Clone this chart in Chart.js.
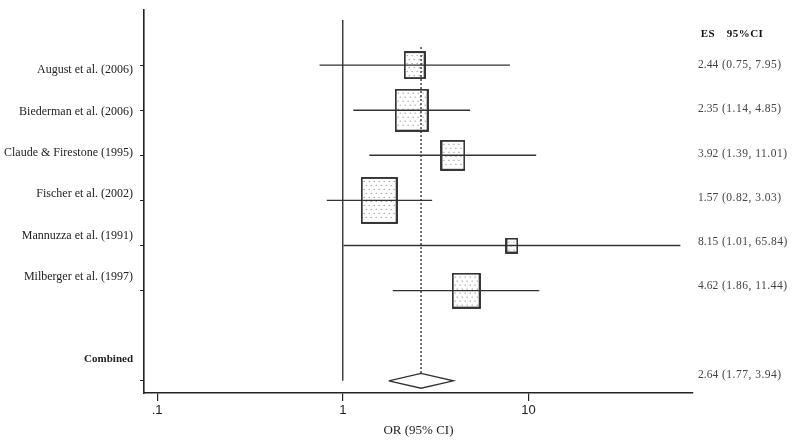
<!DOCTYPE html>
<html>
<head>
<meta charset="utf-8">
<script src="https://cdn.jsdelivr.net/npm/chart.js@4.4.0/dist/chart.umd.min.js"></script>
<style>
  html, body { margin: 0; padding: 0; background: #fff; }
</style>
</head>
<body>
<canvas id="forest" width="800" height="443"></canvas>
<script>
// study data
var studies = ['August et al. (2006)', 'Biederman et al. (2006)', 'Claude & Firestone (1995)',
               'Fischer et al. (2002)', 'Mannuzza et al. (1991)', 'Milberger et al. (1997)'];
var es = [2.44, 2.35, 3.92, 1.57, 8.15, 4.62];
var ciLow = [0.75, 1.14, 1.39, 0.82, 1.01, 1.86];
var ciHigh = [7.95, 4.85, 11.01, 3.03, 65.84, 11.44];
var weights = [10.3, 25.6, 12.8, 30.8, 3.0, 17.6];

var combinedLabel = 'Combined';
var combinedEs = 2.64;
var combinedLow = 1.77;
var combinedHigh = 3.94;

var xTicks = [0.1, 1, 10];
var xTickLabels = ['.1', '1', '10'];
var headers = ['ES', '95%CI'];

// row positions: studies 0..5, combined one row further down
var rows = studies.map(function (s, i) { return i; });
var combinedRow = studies.length + 1;
var rowTicks = rows.concat([combinedRow]);
var rowLabels = studies.concat([combinedLabel]);

var ink = '#222';
var serif = '"Liberation Serif", "DejaVu Serif", serif';

function dottedBox(w) {
    var h = Math.round(8.1 * Math.sqrt(w));
    var bw = Math.round(h * 0.78);
    var c = document.createElement('canvas');
    c.width = bw + 2; c.height = h + 2;
    var g = c.getContext('2d');
    g.fillStyle = '#fff';
    g.fillRect(1, 1, bw, h);
    g.fillStyle = '#777';
    for (var yy = 4, r = 0; yy < h - 1; yy += 4, r++) {
        for (var xx = (r % 2 ? 5 : 3); xx < bw - 1; xx += 5) {
            g.fillRect(xx, yy, 1, 1);
        }
    }
    g.strokeStyle = ink;
    g.lineWidth = 1.8;
    g.strokeRect(1, 1, bw, h);
    return c;
}

var datasets = [];

// confidence interval lines
studies.forEach(function (s, i) {
    datasets.push({
        type: 'line',
        data: [{ x: ciLow[i], y: rows[i] }, { x: ciHigh[i], y: rows[i] }],
        borderColor: '#333', borderWidth: 1.4, pointRadius: 0, order: 0
    });
});

// weighted boxes
datasets.push({
    type: 'scatter',
    data: studies.map(function (s, i) { return { x: es[i], y: rows[i] }; }),
    pointStyle: weights.map(dottedBox),
    pointRadius: 5,
    order: 2
});

// line of no effect
datasets.push({
    type: 'line',
    data: [{ x: 1, y: -1 }, { x: 1, y: combinedRow }],
    borderColor: '#333', borderWidth: 1.4, pointRadius: 0, order: 1
});

// pooled estimate line
var diamondHalf = 0.165;
datasets.push({
    type: 'line',
    data: [{ x: combinedEs, y: -0.4 }, { x: combinedEs, y: combinedRow - diamondHalf }],
    borderColor: '#333', borderWidth: 1.4, borderDash: [2, 2], pointRadius: 0, order: 0
});

// pooled diamond
datasets.push({
    type: 'line',
    data: [
        { x: combinedLow, y: combinedRow },
        { x: combinedEs, y: combinedRow - diamondHalf },
        { x: combinedHigh, y: combinedRow },
        { x: combinedEs, y: combinedRow + diamondHalf },
        { x: combinedLow, y: combinedRow }
    ],
    borderColor: '#333', borderWidth: 1.4, pointRadius: 0, fill: false, tension: 0, order: 0
});

var rightText = {
    id: 'rightText',
    afterDraw: function (chart) {
        var ctx = chart.ctx;
        var yr = chart.scales.yr;
        ctx.save();
        ctx.textBaseline = 'middle';
        ctx.fillStyle = '#111';
        ctx.letterSpacing = '0.5px';
        ctx.font = 'bold 11px ' + serif;
        ctx.textAlign = 'center';
        ctx.fillText(headers[0], 708, yr.getPixelForValue(-0.7));
        ctx.fillText(headers[1], 745, yr.getPixelForValue(-0.7));

        ctx.fillStyle = '#444';
        ctx.textAlign = 'left';
        var allEs = es.concat([combinedEs]);
        var allLo = ciLow.concat([combinedLow]);
        var allHi = ciHigh.concat([combinedHigh]);
        rowTicks.forEach(function (r, i) {
            var y = yr.getPixelForValue(r);
            ctx.font = '11.5px ' + serif;
            ctx.letterSpacing = '0px';
            ctx.fillText(allEs[i].toFixed(2), 698, y);
            ctx.letterSpacing = '0.5px';
            ctx.fillText('(' + allLo[i].toFixed(2) + ', ' + allHi[i].toFixed(2) + ')', 722, y);
        });
        ctx.restore();
    }
};

function fixedTicks(values) {
    return function (scale) {
        scale.ticks = values.map(function (v) { return { value: v }; });
    };
}

new Chart(document.getElementById('forest'), {
    type: 'scatter',
    data: { datasets: datasets },
    options: {
        responsive: false,
        animation: false,
        layout: { padding: { top: 7, right: 107, left: 0, bottom: 0 } },
        plugins: { legend: { display: false }, tooltip: { enabled: false } },
        scales: {
            x: {
                type: 'logarithmic',
                min: 0.085,
                max: 77,
                afterBuildTicks: fixedTicks(xTicks),
                afterFit: function (scale) { scale.height = 50; },
                grid: { drawOnChartArea: false, tickLength: 8, color: ink, lineWidth: 1.2 },
                border: { display: true, color: ink, width: 1.6 },
                ticks: {
                    padding: 2,
                    color: '#222',
                    font: { family: '"Liberation Sans", Arial, sans-serif', size: 13 },
                    callback: function (v) {
                        var k = xTicks.indexOf(v);
                        return k >= 0 ? xTickLabels[k] : '';
                    }
                },
                title: {
                    display: true,
                    text: 'OR (95% CI)',
                    color: '#222',
                    font: { family: serif, size: 13 },
                    padding: { top: 0, bottom: 5 }
                }
            },
            y: {
                type: 'linear',
                position: 'left',
                weight: 0,
                reverse: true,
                min: -1.23,
                max: 7.27,
                afterBuildTicks: fixedTicks(rowTicks),
                afterFit: function (scale) { scale.width = 8; },
                grid: { drawOnChartArea: false, tickLength: 4, color: ink, lineWidth: 1 },
                border: { display: true, color: ink, width: 1.6 },
                ticks: { display: false }
            },
            yl: {
                type: 'linear',
                position: 'left',
                weight: 1,
                reverse: true,
                min: -1.466,
                max: 7.8125,
                afterBuildTicks: fixedTicks(rowTicks),
                afterFit: function (scale) { scale.width = 136; },
                grid: { display: false, drawTicks: false },
                border: { display: false },
                ticks: {
                    padding: 3,
                    color: '#222',
                    font: function (c) {
                        var bold = c.tick && c.tick.value === combinedRow;
                        return { family: serif, size: bold ? 11 : 12, weight: bold ? 'bold' : 'normal' };
                    },
                    callback: function (v) {
                        var k = rowTicks.indexOf(v);
                        return k >= 0 ? rowLabels[k] : '';
                    }
                }
            },
            yr: {
                type: 'linear',
                position: 'right',
                display: false,
                reverse: true,
                min: -1.258,
                max: 7.416
            }
        }
    },
    plugins: [rightText]
});
</script>
</body>
</html>
